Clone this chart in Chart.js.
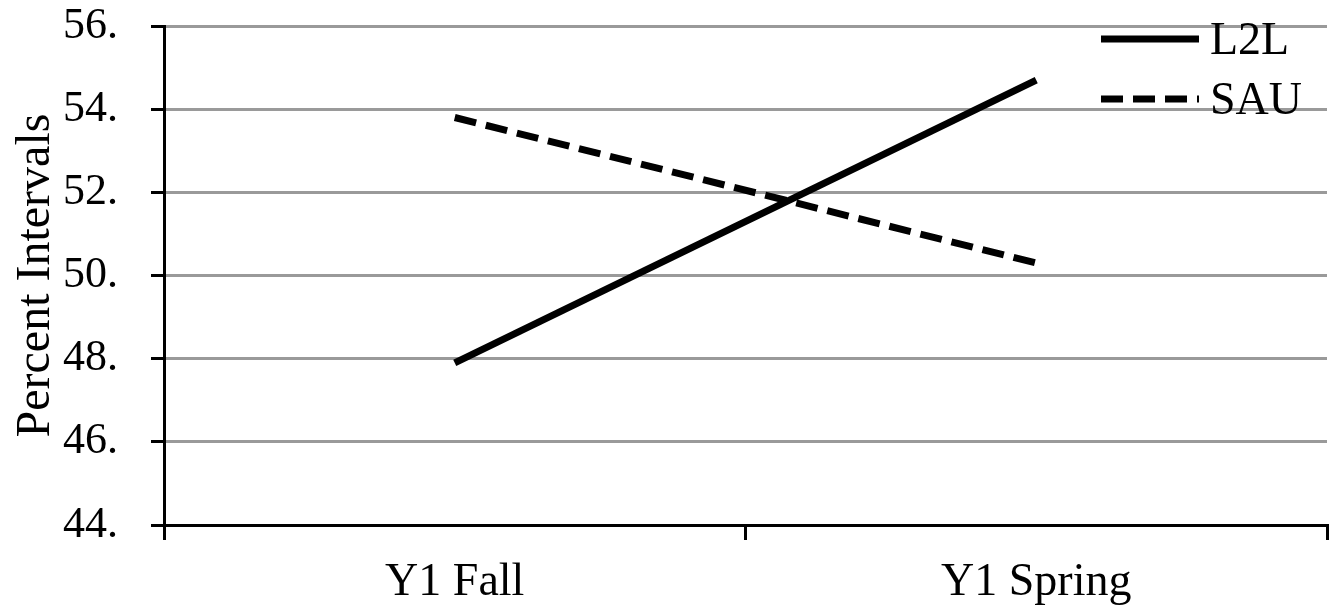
<!DOCTYPE html>
<html>
<head>
<meta charset="utf-8">
<script src="https://cdn.jsdelivr.net/npm/chart.js@4"></script>
<style>
  html, body { margin: 0; padding: 0; background: #fff; }
  #wrap { width: 1339px; height: 614px; position: relative; }
</style>
</head>
<body>
<div id="wrap"><canvas id="chart"></canvas></div>
<script>
// ---------- Data ----------
const categories = ['Y1 Fall', 'Y1 Spring'];
const l2l = [47.9, 54.7];
const sau = [53.8, 50.3];
const yTicks = [44, 46, 48, 50, 52, 54, 56];

const FONT = 'Liberation Serif, Times New Roman, serif';

// legend drawn inside the plot, top-right, like the original
const insideLegend = {
  id: 'insideLegend',
  afterDraw(chart) {
    const { ctx, chartArea } = chart;
    const x0 = chartArea.right - 226, x1 = chartArea.right - 128;
    chart.data.datasets.forEach((ds, i) => {
      const y = chartArea.top + 13 + i * 60;
      ctx.save();
      ctx.strokeStyle = ds.borderColor;
      ctx.lineWidth = ds.borderWidth;
      ctx.setLineDash(ds.borderDash || []);
      ctx.beginPath();
      ctx.moveTo(x0, y);
      ctx.lineTo(x1, y);
      ctx.stroke();
      ctx.setLineDash([]);
      ctx.fillStyle = '#000';
      ctx.font = `46px ${FONT}`;
      ctx.textBaseline = 'alphabetic';
      ctx.fillText(ds.label, x1 + 11, y + 15);
      ctx.restore();
    });
  },
};

new Chart(document.getElementById('chart').getContext('2d'), {
  type: 'line',
  data: {
    labels: categories,
    datasets: [
      { label: 'L2L', data: l2l, borderColor: '#000', borderWidth: 7, pointRadius: 0, tension: 0 },
      { label: 'SAU', data: sau, borderColor: '#000', borderWidth: 7, borderDash: [22, 10], pointRadius: 0, tension: 0 },
    ],
  },
  options: {
    responsive: true, maintainAspectRatio: false, animation: false,
    layout: { padding: { top: 0, right: 12, left: 0, bottom: 0 } },
    plugins: { legend: { display: false }, tooltip: { enabled: false } },
    scales: {
      x: {
        offset: true,
        grid: { offset: true, drawOnChartArea: false, drawTicks: true, tickLength: 15, color: '#000', lineWidth: 3 },
        border: { display: true, color: '#000', width: 3 },
        ticks: { color: '#000', font: { family: FONT, size: 46 }, padding: 15, maxRotation: 0 },
        afterFit: (s) => { s.height = 89; },
      },
      y: {
        min: 44, max: 56,
        afterBuildTicks: (s) => { s.ticks = yTicks.map((v) => ({ value: v })); },
        grid: { color: '#9a9a9a', lineWidth: 3, tickColor: '#000', tickLength: 13 },
        border: { display: true, color: '#000', width: 3 },
        ticks: { color: '#000', font: { family: FONT, size: 44 }, padding: 33, callback: (v) => v + '.' },
        title: { display: true, text: 'Percent Intervals', color: '#000', font: { family: FONT, size: 48 }, padding: { top: 8, bottom: 0 } },
        afterFit: (s) => { s.width = 164; s.paddingTop = 26; s.paddingBottom = 0; },
      },
    },
  },
  plugins: [insideLegend],
});
</script>
</body>
</html>
